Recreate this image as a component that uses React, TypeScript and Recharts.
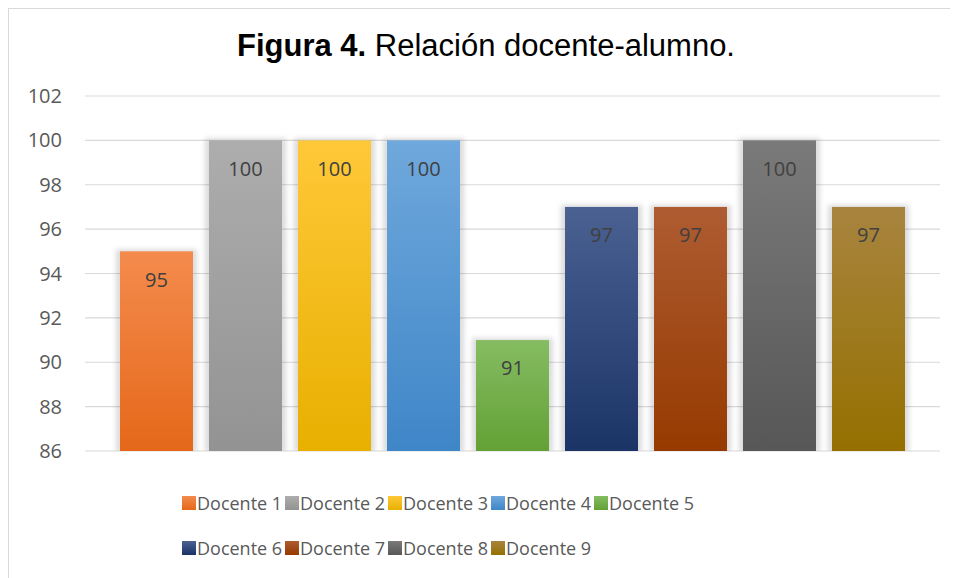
import React from 'react';
import { BarChart, Bar, XAxis, YAxis, CartesianGrid, Legend, LabelList } from 'recharts';

const seriesNames = ['Docente 1', 'Docente 2', 'Docente 3', 'Docente 4', 'Docente 5', 'Docente 6', 'Docente 7', 'Docente 8', 'Docente 9'];
const seriesValues = [95, 100, 100, 100, 91, 97, 97, 100, 97];
const colorsTop = ['#F48B4D', '#ADADAD', '#FFC838', '#6FA8DC', '#85BC62', '#4A6192', '#AE5C32', '#7A7A7A', '#A8843F'];
const colorsBottom = ['#E5681A', '#939393', '#E8B000', '#3F86C8', '#63A135', '#1B3466', '#963A00', '#575757', '#957000'];
const yTicks = [86, 88, 90, 92, 94, 96, 98, 100, 102];

const row: Record<string, string | number> = { cat: '' };
seriesNames.forEach((n, i) => {
  row['s' + i] = seriesValues[i];
});
const data = [row];

const FONT = '"Open Sans", Calibri, sans-serif';

const ShadowBar = (props: any) => {
  const { x, y, width, height, fill } = props;
  if (width == null || height == null) return null;
  return (
    <g>
      <rect
        x={x - 4}
        y={y - 2}
        width={width + 8}
        height={height + 3}
        fill="#000"
        fillOpacity={0.14}
        filter="url(#barShadow)"
      />
      <rect x={x} y={y} width={width} height={height} fill={fill} />
    </g>
  );
};

const LegendContent = () => (
  <div style={{ paddingTop: 29, height: 90, boxSizing: 'content-box' }}>
    <div style={{ marginLeft: 173, width: 520, display: 'flex', flexWrap: 'wrap' }}>
      {seriesNames.map((n, i) => (
        <div key={n} style={{ width: 103, height: 45, display: 'flex', alignItems: 'center' }}>
          <div
            style={{
              width: 14,
              height: 14,
              background: `linear-gradient(${colorsTop[i]}, ${colorsBottom[i]})`,
              flex: '0 0 auto',
            }}
          />
          <span
            style={{
              marginLeft: 1,
              fontFamily: FONT,
              fontSize: 18,
              color: '#595959',
              whiteSpace: 'nowrap',
              lineHeight: '20px',
            }}
          >
            {n}
          </span>
        </div>
      ))}
    </div>
  </div>
);

export default function App() {
  return (
    <div
      style={{
        position: 'relative',
        width: 949,
        height: 569,
        borderLeft: '1px solid #D9D9D9',
        borderTop: '1px solid #D9D9D9',
        background: '#fff',
      }}
    >
      <div
        style={{
          position: 'absolute',
          top: 19,
          left: 477,
          transform: 'translateX(-50%)',
          whiteSpace: 'nowrap',
          fontFamily: '"Liberation Sans", Arial, sans-serif',
          fontSize: 31,
          lineHeight: '36px',
          color: '#000',
          zIndex: 2,
        }}
      >
        <b>Figura 4.</b> Relación docente-alumno.
      </div>
      <BarChart
        width={949}
        height={569}
        data={data}
        margin={{ top: 87, right: 18, bottom: 8, left: 16 }}
        barSize={73}
        barGap={16}
      >
        <defs>
          {seriesNames.map((n, i) => (
            <linearGradient key={n} id={'grad' + i} x1="0" y1="0" x2="0" y2="1">
              <stop offset="0%" stopColor={colorsTop[i]} />
              <stop offset="100%" stopColor={colorsBottom[i]} />
            </linearGradient>
          ))}
          <filter id="barShadow" x="-20%" y="-20%" width="140%" height="140%">
            <feGaussianBlur stdDeviation="2.5" />
          </filter>
        </defs>
        <CartesianGrid vertical={false} stroke="#D9D9D9" strokeWidth={1.2} />
        <XAxis dataKey="cat" tick={false} axisLine={false} tickLine={false} height={0} />
        <YAxis
          width={60}
          domain={[86, 102]}
          ticks={yTicks}
          allowDataOverflow
          axisLine={false}
          tickLine={false}
          tickSize={0}
          tickMargin={23}
          tick={{ fill: '#595959', fontSize: 20, fontFamily: FONT }}
        />
        <Legend
          verticalAlign="bottom"
          layout="horizontal"
          content={<LegendContent />}
          wrapperStyle={{ left: 0, width: 949 }}
        />
        {seriesNames.map((n, i) => (
          <Bar
            key={n}
            dataKey={'s' + i}
            name={n}
            fill={`url(#grad${i})`}
            shape={<ShadowBar />}
            isAnimationActive={false}
          >
            <LabelList
              dataKey={'s' + i}
              position="insideTop"
              offset={21}
              fill="#404040"
              style={{ fontSize: 20, fontFamily: FONT }}
            />
          </Bar>
        ))}
      </BarChart>
    </div>
  );
}
